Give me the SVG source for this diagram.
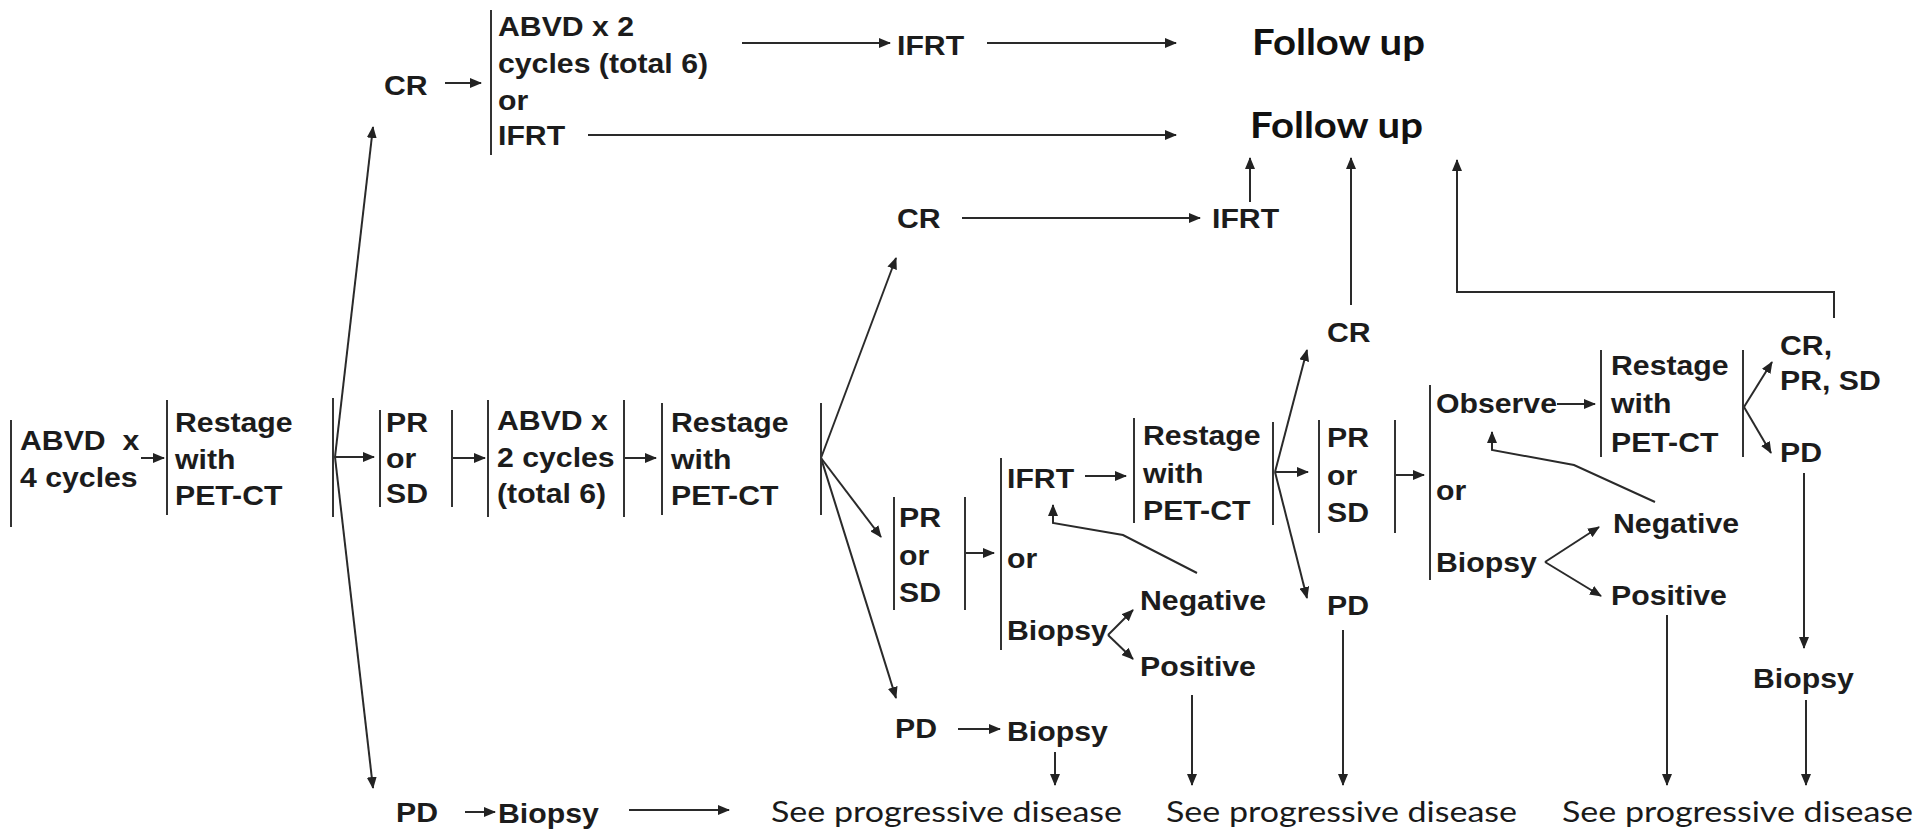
<svg xmlns="http://www.w3.org/2000/svg" width="1917" height="832" viewBox="0 0 1917 832">
<style>
.a{font-family:"Liberation Sans",Arial,sans-serif;font-weight:bold;font-size:27px;fill:#1c1c1c;white-space:pre}
.f{font-family:Lato,"Open Sans",sans-serif;font-weight:bold;font-size:36px;fill:#111}
.s{font-family:Lato,"Open Sans",sans-serif;font-size:29px;fill:#1a1a1a}
.bar{stroke:#333;stroke-width:2;fill:none}
.c line,.c polyline{stroke:#2a2a2a;stroke-width:2;fill:none;marker-end:url(#ah)}
.c .n{marker-end:none}
</style>
<defs>
<marker id="ah" markerUnits="userSpaceOnUse" markerWidth="12" markerHeight="10" refX="11" refY="5" orient="auto">
<path d="M0,0 L12,5 L0,10 z" fill="#222"/>
</marker>
</defs>
<rect width="1917" height="832" fill="#fff"/>

<g class="c" id="connectors">
<line x1="141" y1="458" x2="164" y2="458"/>
<line x1="335" y1="457" x2="373" y2="127"/>
<line x1="335" y1="457" x2="374" y2="457"/>
<line x1="335" y1="457" x2="373" y2="788"/>
<line x1="445" y1="83" x2="481" y2="83"/>
<line x1="742" y1="43" x2="890" y2="43"/>
<line x1="987" y1="43" x2="1176" y2="43"/>
<line x1="588" y1="135" x2="1176" y2="135"/>
<line x1="452" y1="458" x2="485" y2="458"/>
<line x1="624" y1="458" x2="656" y2="458"/>
<line x1="821" y1="458" x2="896" y2="258"/>
<line x1="821" y1="458" x2="881" y2="537"/>
<line x1="821" y1="458" x2="896" y2="698"/>
<line x1="962" y1="218" x2="1200" y2="218"/>
<line x1="1250" y1="202" x2="1250" y2="158"/>
<line x1="965" y1="553" x2="994" y2="553"/>
<line x1="1085" y1="476" x2="1126" y2="476"/>
<line x1="1108" y1="635" x2="1133" y2="610"/>
<line x1="1108" y1="635" x2="1133" y2="659"/>
<polyline points="1197,573 1123,535 1053,523 1053,505"/>
<line x1="1275" y1="472" x2="1307" y2="350"/>
<line x1="1275" y1="472" x2="1308" y2="472"/>
<line x1="1275" y1="472" x2="1307" y2="598"/>
<line x1="1351" y1="305" x2="1351" y2="158"/>
<line x1="1343" y1="630" x2="1343" y2="785"/>
<line x1="1396" y1="475" x2="1424" y2="475"/>
<line x1="1557" y1="404" x2="1595" y2="404"/>
<line x1="1744" y1="407" x2="1772" y2="362"/>
<line x1="1744" y1="407" x2="1771" y2="453"/>
<polyline points="1834,318 1834,292 1457,292 1457,160"/>
<line x1="1804" y1="473" x2="1804" y2="648"/>
<line x1="1806" y1="700" x2="1806" y2="785"/>
<line x1="1545" y1="562" x2="1599" y2="527"/>
<line x1="1545" y1="562" x2="1601" y2="596"/>
<polyline points="1655,502 1574,465 1492,450 1492,432"/>
<line x1="1667" y1="615" x2="1667" y2="785"/>
<line x1="1192" y1="695" x2="1192" y2="785"/>
<line x1="1055" y1="752" x2="1055" y2="785"/>
<line x1="958" y1="729" x2="1000" y2="729"/>
<line x1="465" y1="812" x2="495" y2="812"/>
<line x1="629" y1="810" x2="729" y2="810"/>
</g>

<g id="n-abvd4">
<line class="bar" x1="11" y1="420" x2="11" y2="527"/>
<text class="a" transform="translate(20 450) scale(1.12 1)"><tspan x="0" y="0">ABVD  x</tspan><tspan x="0" y="37">4 cycles</tspan></text>
</g>
<g id="n-restage1">
<line class="bar" x1="167" y1="400" x2="167" y2="515"/>
<text class="a" transform="translate(175 432) scale(1.12 1)"><tspan x="0" y="0">Restage</tspan><tspan x="0" y="37">with</tspan><tspan x="0" y="73">PET-CT</tspan></text>
<line class="bar" x1="333" y1="398" x2="333" y2="517"/>
</g>
<g id="n-cr1">
<text class="a" transform="translate(384 95) scale(1.12 1)">CR</text>
</g>
<g id="n-abvd2-or-ifrt">
<line class="bar" x1="491" y1="10" x2="491" y2="155"/>
<text class="a" transform="translate(498 36) scale(1.12 1)"><tspan x="0" y="0">ABVD x 2</tspan><tspan x="0" y="37">cycles (total 6)</tspan><tspan x="0" y="74">or</tspan><tspan x="0" y="109">IFRT</tspan></text>
</g>
<g id="n-ifrt-top">
<text class="a" transform="translate(897 55) scale(1.12 1)">IFRT</text>
</g>
<g id="n-follow1">
<text class="f" x="1252" y="55" textLength="173" lengthAdjust="spacingAndGlyphs">Follow up</text>
</g>
<g id="n-follow2">
<text class="f" x="1250" y="138" textLength="173" lengthAdjust="spacingAndGlyphs">Follow up</text>
</g>
<g id="n-prsd1">
<line class="bar" x1="380" y1="410" x2="380" y2="507"/>
<text class="a" transform="translate(386 432) scale(1.12 1)"><tspan x="0" y="0">PR</tspan><tspan x="0" y="36">or</tspan><tspan x="0" y="71">SD</tspan></text>
<line class="bar" x1="452" y1="410" x2="452" y2="507"/>
</g>
<g id="n-abvd2">
<line class="bar" x1="488" y1="400" x2="488" y2="517"/>
<text class="a" transform="translate(497 430) scale(1.12 1)"><tspan x="0" y="0">ABVD x</tspan><tspan x="0" y="37">2 cycles</tspan><tspan x="0" y="73">(total 6)</tspan></text>
<line class="bar" x1="624" y1="400" x2="624" y2="517"/>
</g>
<g id="n-restage2">
<line class="bar" x1="662" y1="403" x2="662" y2="515"/>
<text class="a" transform="translate(671 432) scale(1.12 1)"><tspan x="0" y="0">Restage</tspan><tspan x="0" y="37">with</tspan><tspan x="0" y="73">PET-CT</tspan></text>
<line class="bar" x1="821" y1="403" x2="821" y2="515"/>
</g>
<g id="n-cr2">
<text class="a" transform="translate(897 228) scale(1.12 1)">CR</text>
</g>
<g id="n-ifrt2">
<text class="a" transform="translate(1212 228) scale(1.12 1)">IFRT</text>
</g>
<g id="n-prsd2">
<line class="bar" x1="894" y1="497" x2="894" y2="610"/>
<text class="a" transform="translate(899 527) scale(1.12 1)"><tspan x="0" y="0">PR</tspan><tspan x="0" y="38">or</tspan><tspan x="0" y="75">SD</tspan></text>
<line class="bar" x1="965" y1="497" x2="965" y2="610"/>
</g>
<g id="n-ifrt-or-biopsy">
<line class="bar" x1="1001" y1="458" x2="1001" y2="650"/>
<text class="a" transform="translate(1007 488) scale(1.12 1)"><tspan x="0" y="0">IFRT</tspan><tspan x="0" y="80">or</tspan><tspan x="0" y="152">Biopsy</tspan></text>
</g>
<g id="n-neg1">
<text class="a" transform="translate(1140 610) scale(1.12 1)">Negative</text>
</g>
<g id="n-pos1">
<text class="a" transform="translate(1140 676) scale(1.12 1)">Positive</text>
</g>
<g id="n-restage3">
<line class="bar" x1="1134" y1="418" x2="1134" y2="523"/>
<text class="a" transform="translate(1143 445) scale(1.12 1)"><tspan x="0" y="0">Restage</tspan><tspan x="0" y="38">with</tspan><tspan x="0" y="75">PET-CT</tspan></text>
<line class="bar" x1="1273" y1="422" x2="1273" y2="525"/>
</g>
<g id="n-pd2">
<text class="a" transform="translate(895 738) scale(1.12 1)">PD</text>
</g>
<g id="n-biopsy2">
<text class="a" transform="translate(1007 741) scale(1.12 1)">Biopsy</text>
</g>
<g id="n-cr3">
<text class="a" transform="translate(1327 342) scale(1.12 1)">CR</text>
</g>
<g id="n-prsd3">
<line class="bar" x1="1319" y1="420" x2="1319" y2="533"/>
<text class="a" transform="translate(1327 447) scale(1.12 1)"><tspan x="0" y="0">PR</tspan><tspan x="0" y="38">or</tspan><tspan x="0" y="75">SD</tspan></text>
<line class="bar" x1="1395" y1="420" x2="1395" y2="533"/>
</g>
<g id="n-pd3">
<text class="a" transform="translate(1327 615) scale(1.12 1)">PD</text>
</g>
<g id="n-observe-or-biopsy">
<line class="bar" x1="1430" y1="385" x2="1430" y2="580"/>
<text class="a" transform="translate(1436 413) scale(1.12 1)"><tspan x="0" y="0">Observe</tspan><tspan x="0" y="87">or</tspan><tspan x="0" y="159">Biopsy</tspan></text>
</g>
<g id="n-restage4">
<line class="bar" x1="1601" y1="350" x2="1601" y2="457"/>
<text class="a" transform="translate(1611 375) scale(1.12 1)"><tspan x="0" y="0">Restage</tspan><tspan x="0" y="38">with</tspan><tspan x="0" y="77">PET-CT</tspan></text>
<line class="bar" x1="1743" y1="350" x2="1743" y2="457"/>
</g>
<g id="n-crprsd">
<text class="a" transform="translate(1780 355) scale(1.12 1)"><tspan x="0" y="0">CR,</tspan><tspan x="0" y="35">PR, SD</tspan></text>
</g>
<g id="n-pd4">
<text class="a" transform="translate(1780 462) scale(1.12 1)">PD</text>
</g>
<g id="n-neg2">
<text class="a" transform="translate(1613 533) scale(1.12 1)">Negative</text>
</g>
<g id="n-pos2">
<text class="a" transform="translate(1611 605) scale(1.12 1)">Positive</text>
</g>
<g id="n-biopsy4">
<text class="a" transform="translate(1753 688) scale(1.12 1)">Biopsy</text>
</g>
<g id="n-pd1">
<text class="a" transform="translate(396 822) scale(1.12 1)">PD</text>
</g>
<g id="n-biopsy1">
<text class="a" transform="translate(498 823) scale(1.12 1)">Biopsy</text>
</g>
<g id="n-see1">
<text class="s" x="771" y="822" textLength="351" lengthAdjust="spacingAndGlyphs">See progressive disease</text>
</g>
<g id="n-see2">
<text class="s" x="1166" y="822" textLength="351" lengthAdjust="spacingAndGlyphs">See progressive disease</text>
</g>
<g id="n-see3">
<text class="s" x="1562" y="822" textLength="351" lengthAdjust="spacingAndGlyphs">See progressive disease</text>
</g>
</svg>
